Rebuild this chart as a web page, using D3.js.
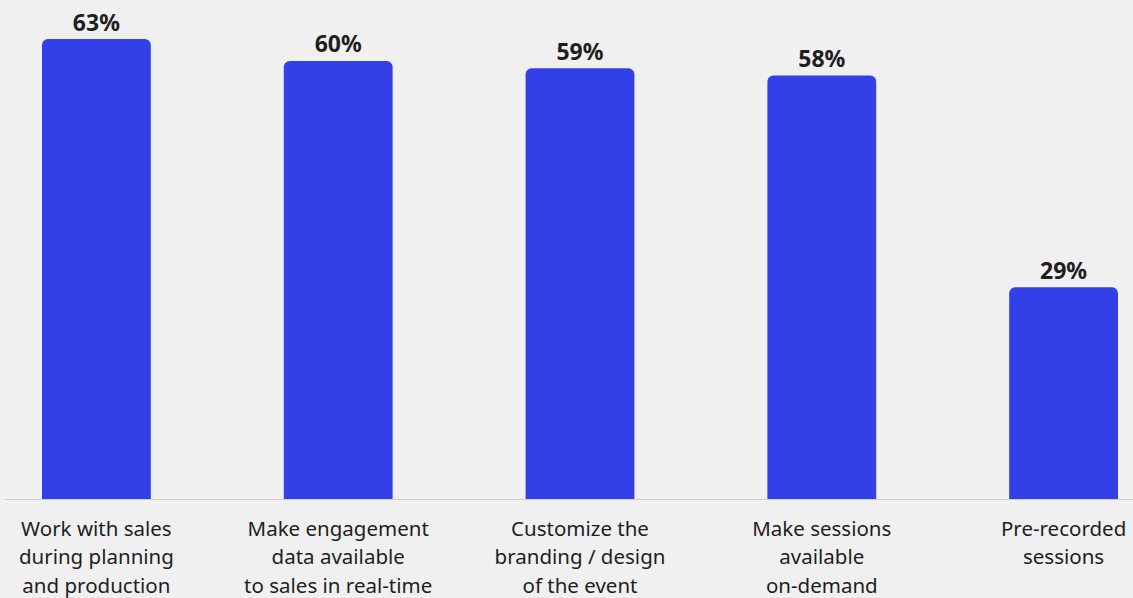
<!DOCTYPE html>
<html>
<head>
<meta charset="utf-8">
<script src="https://cdn.jsdelivr.net/npm/d3@7"></script>
<style>
  html, body { margin: 0; padding: 0; background: #f0f0f0; }
  svg { display: block; }
  text { font-family: "Noto Sans", "Open Sans", sans-serif; }
</style>
</head>
<body>
<svg id="chart" width="1133" height="598"></svg>
<script>
// Survey responses: share of respondents per capability
const categories = [
  "Work with sales|during planning|and production",
  "Make engagement|data available|to sales in real-time",
  "Customize the|branding / design|of the event",
  "Make sessions|available|on-demand",
  "Pre-recorded|sessions"
];
const values = [63, 60, 59, 58, 29];
const valueLabels = ["63%", "60%", "59%", "58%", "29%"];

const W = 1133, H = 598;
const baseline = 499;
const svg = d3.select("#chart");

svg.append("rect").attr("width", W).attr("height", H).attr("fill", "#f0f0f0");

// band scale for the five bars
const xb = d3.scaleBand()
  .domain(categories)
  .range([-24.5, 1184.5])
  .paddingInner(0.55)
  .paddingOuter(0.275);

const y = d3.scaleLinear().domain([0, 63]).range([baseline, 39]);

const barColor = "#3340e8";
const r = 6;

function topRounded(x0, y0, w, h, rad) {
  const p = d3.path();
  p.moveTo(x0, y0 + h);
  p.lineTo(x0, y0 + rad);
  p.arcTo(x0, y0, x0 + rad, y0, rad);
  p.lineTo(x0 + w - rad, y0);
  p.arcTo(x0 + w, y0, x0 + w, y0 + rad, rad);
  p.lineTo(x0 + w, y0 + h);
  p.closePath();
  return p.toString();
}

const data = categories.map((c, i) => ({ c, v: values[i], label: valueLabels[i] }));

svg.append("g").selectAll("path")
  .data(data)
  .join("path")
  .attr("d", d => topRounded(xb(d.c), y(d.v), xb.bandwidth(), y(0) - y(d.v), r))
  .attr("fill", barColor);

// baseline
svg.append("line")
  .attr("x1", 5).attr("x2", W)
  .attr("y1", y(0) + 0.5).attr("y2", y(0) + 0.5)
  .attr("stroke", "#cfcfcf").attr("stroke-width", 1.2);

// value labels above bars
svg.append("g").selectAll("text")
  .data(data)
  .join("text")
  .attr("x", d => xb(d.c) + xb.bandwidth() / 2)
  .attr("y", d => y(d.v) - 8.5)
  .attr("text-anchor", "middle")
  .attr("font-size", 23)
  .attr("font-weight", 700)
  .attr("fill", "#1e1e1e")
  .text(d => d.label);

// category labels (multi-line)
const cat = svg.append("g").selectAll("text")
  .data(data)
  .join("text")
  .attr("text-anchor", "middle")
  .attr("font-size", 20.5)
  .attr("fill", "#1e1e1e");

cat.each(function(d) {
  const t = d3.select(this);
  d.c.split("|").forEach((line, i) => {
    t.append("tspan")
      .attr("x", xb(d.c) + xb.bandwidth() / 2)
      .attr("y", 535.5 + i * 28.5)
      .text(line);
  });
});
</script>
</body>
</html>
